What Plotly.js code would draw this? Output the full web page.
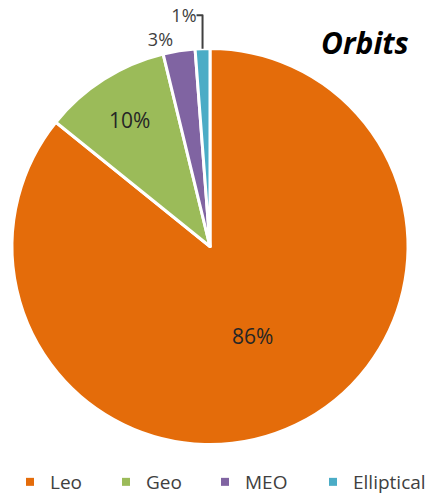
<!DOCTYPE html>
<html>
<head>
<meta charset="utf-8">
<script src="https://cdn.plot.ly/plotly-3.0.1.min.js"></script>
<style>html,body{margin:0;padding:0;background:#fff;}#chart{width:430px;height:496px;}</style>
</head>
<body>
<div id="chart"></div>
<script>
var categories = ['Leo', 'Geo', 'MEO', 'Elliptical'];
var shares = [85.8, 10.4, 2.6, 1.2];
var sliceColors = ['#E46C0A', '#9BBB59', '#8064A2', '#4BACC6'];
var chartTitle = 'Orbits';
// left edge (px) of each legend entry
var legendLeft = [10, 106, 205, 313];

var pie = {
  type: 'pie',
  labels: categories,
  values: shares,
  sort: false,
  direction: 'clockwise',
  rotation: 0,
  showlegend: false,
  marker: {colors: sliceColors, line: {color: '#FFFFFF', width: 3}},
  textinfo: 'percent',
  texttemplate: '%{percent:.0%}',
  textposition: ['inside', 'inside', 'outside', 'outside'],
  insidetextorientation: 'horizontal',
  insidetextfont: {family: 'Open Sans, sans-serif', size: 21, color: '#262626'},
  outsidetextfont: {family: 'Open Sans, sans-serif', size: 18, color: '#404040'},
  hoverinfo: 'label+percent',
  domain: {x: [12/430, 408/430], y: [1 - 446/496, 1 - 47/496]}
};

var traces = [pie];
var layout = {
  width: 430,
  height: 496,
  margin: {l: 0, r: 0, t: 0, b: 0, autoexpand: false},
  paper_bgcolor: '#FFFFFF',
  plot_bgcolor: 'rgba(0,0,0,0)',
  showlegend: true,
  xaxis: {visible: false, domain: [0, 0.01]},
  yaxis: {visible: false, domain: [0, 0.01]},
  annotations: [{
    text: '<b><i>' + chartTitle + '</i></b>',
    xref: 'paper', yref: 'paper',
    x: 365/430, y: 1 - 43/496,
    xanchor: 'center', yanchor: 'middle',
    showarrow: false,
    font: {family: 'Open Sans, sans-serif', size: 30, color: '#000000'}
  }]
};

categories.forEach(function (name, i) {
  var key = i === 0 ? 'legend' : 'legend' + (i + 1);
  traces.push({
    type: 'scatter', mode: 'markers',
    x: [null], y: [null],
    name: name,
    legend: key,
    showlegend: true,
    hoverinfo: 'skip',
    marker: {symbol: 'square', size: 8, color: sliceColors[i]}
  });
  layout[key] = {
    orientation: 'h',
    x: legendLeft[i] / 430, xanchor: 'left',
    y: 1 - 482/496, yanchor: 'middle',
    bgcolor: 'rgba(0,0,0,0)',
    font: {family: 'Open Sans, sans-serif', size: 19, color: '#404040'}
  };
});

Plotly.newPlot('chart', traces, layout, {displayModeBar: false, staticPlot: true});
</script>
</body>
</html>
